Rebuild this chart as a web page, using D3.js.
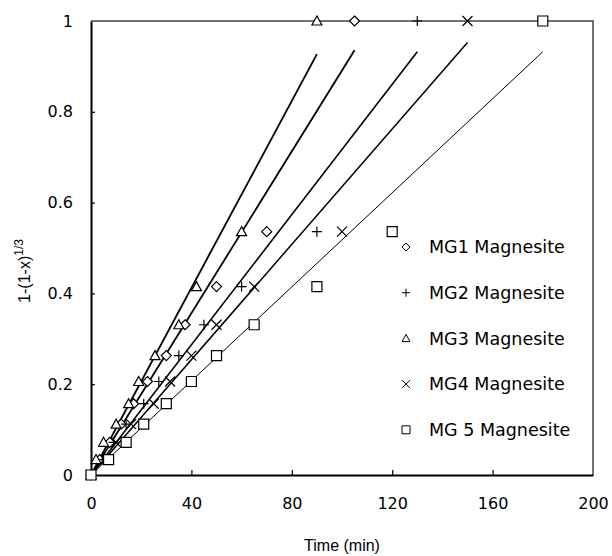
<!DOCTYPE html>
<html>
<head>
<meta charset="utf-8">
<script src="https://cdn.jsdelivr.net/npm/d3@7"></script>
<style>
  body { margin: 0; background: #fff; }
  svg { display: block; }
</style>
</head>
<body>
<div id="chart"></div>
<script>
// conversion levels 1-(1-x)^(1/3) for x = 0, 0.1 ... 0.9, 1
const yLevels = [0, 0.034, 0.072, 0.112, 0.157, 0.206, 0.263, 0.331, 0.415, 0.536, 1];

// time (min) at which each level is reached
const mg1Time = [0, 3.5, 7.5, 12, 17, 22.5, 30, 37.5, 50, 70, 105];
const mg2Time = [0, 4.5, 9, 14, 21, 27, 35, 45, 60, 90, 130];
const mg3Time = [0, 2, 5, 10, 15, 19, 25.5, 35, 42, 60, 90];
const mg4Time = [0, 5.5, 10, 16, 25, 31.5, 40, 50, 65, 100, 150];
const mg5Time = [0, 7, 14, 21, 30, 40, 50, 65, 90, 120, 180];

const seriesNames = ["MG1 Magnesite", "MG2 Magnesite", "MG3 Magnesite", "MG4 Magnesite", "MG 5 Magnesite"];
const seriesShapes = ["diamond", "plus", "triangle", "cross", "square"];

// linear fits through the origin: slope and last time of the fitted line
const fitSlope = [0.00891, 0.00717, 0.0103, 0.00635, 0.00518];
const fitEnd = [105, 130, 90, 150, 180];
const fitWidth = [1.8, 1.6, 1.8, 1.5, 1];

const xTicks = [0, 40, 80, 120, 160, 200];
const yTicks = [0, 0.2, 0.4, 0.6, 0.8, 1];

const width = 612;
const height = 556;
const margin = { top: 21, right: 19, bottom: 81, left: 91 };
const axisFont = "'Liberation Sans', Arial, Helvetica, sans-serif";

const x = d3.scaleLinear().domain([0, 200]).range([margin.left, width - margin.right]);
const y = d3.scaleLinear().domain([0, 1]).range([height - margin.bottom, margin.top]);

const svg = d3.select("#chart").append("svg")
    .attr("width", width)
    .attr("height", height);

// marker outlines, centred on 0,0
function shapePath(type, s) {
    const h = s / 2;
    if (type == "diamond") return `M0,${-h}L${h},0L0,${h}L${-h},0Z`;
    if (type == "square") return `M${-h},${-h}H${h}V${h}H${-h}Z`;
    if (type == "triangle") return `M0,${-h}L${h},${h * 0.8}H${-h}Z`;
    if (type == "plus") return `M${-h},0H${h}M0,${-h}V${h}`;
    if (type == "cross") return `M${-h},${-h}L${h},${h}M${h},${-h}L${-h},${h}`;
}

// frame: top and right in grey
svg.append("path")
    .attr("d", `M${x(0)},${y(1)}H${x(200)}V${y(0)}`)
    .attr("fill", "none")
    .attr("stroke", "#444")
    .attr("stroke-width", 1.5);

// axes
const xAxis = svg.append("g")
    .attr("transform", `translate(0,${y(0)})`)
    .call(d3.axisBottom(x).tickValues(xTicks).tickSizeInner(-5).tickSizeOuter(0).tickPadding(23));
const yAxis = svg.append("g")
    .attr("transform", `translate(${x(0)},0)`)
    .call(d3.axisLeft(y).tickValues(yTicks).tickFormat(d => String(d)).tickSizeInner(-4).tickSizeOuter(0).tickPadding(18));
for (const a of [xAxis, yAxis]) {
    a.attr("font-family", "'DejaVu Sans', Verdana, sans-serif").attr("font-size", 16);
    a.select(".domain").attr("stroke", "#000").attr("stroke-width", 2);
    a.selectAll(".tick line").attr("stroke", "#000").attr("stroke-width", 1.2);
    a.selectAll(".tick text").attr("fill", "#000");
}
xAxis.selectAll(".tick").filter(d => d == 0 || d == 200).select("line").remove();
yAxis.selectAll(".tick").filter(d => d == 0 || d == 1).select("line").remove();

// fitted lines
const allTimes = [mg1Time, mg2Time, mg3Time, mg4Time, mg5Time];
const line = d3.line().x(d => x(d[0])).y(d => y(d[1]));
svg.append("g")
    .selectAll("path")
    .data(fitSlope)
    .join("path")
    .attr("d", (k, i) => line([[0, 0], [fitEnd[i], k * fitEnd[i]]]))
    .attr("fill", "none")
    .attr("stroke", "#000")
    .attr("stroke-width", (k, i) => fitWidth[i]);

// data points
allTimes.forEach((times, i) => {
    svg.append("g")
        .selectAll("path")
        .data(times.map((t, j) => [t, yLevels[j]]))
        .join("path")
        .attr("transform", d => `translate(${x(d[0])},${y(d[1])})`)
        .attr("d", shapePath(seriesShapes[i], 10))
        .attr("fill", "#fff")
        .attr("stroke", "#000")
        .attr("stroke-width", 1.2);
});

// legend
const legend = svg.append("g").attr("transform", "translate(406,247)");
const rows = legend.selectAll("g")
    .data(seriesNames)
    .join("g")
    .attr("transform", (d, i) => `translate(0,${i * 45.7})`);
rows.append("path")
    .attr("d", (d, i) => shapePath(seriesShapes[i], 8))
    .attr("fill", "#fff")
    .attr("stroke", "#000")
    .attr("stroke-width", 1);
rows.append("text")
    .attr("x", 23)
    .attr("dy", "0.35em")
    .attr("font-family", "'DejaVu Sans', Verdana, sans-serif")
    .attr("font-size", 17.5)
    .text(d => d);

// axis titles
svg.append("text")
    .attr("x", (x(0) + x(200)) / 2)
    .attr("y", 551)
    .attr("text-anchor", "middle")
    .attr("font-family", axisFont)
    .attr("font-size", 16)
    .text("Time (min)");

const yt = svg.append("text")
    .attr("transform", "translate(30,271) rotate(-90)")
    .attr("text-anchor", "middle")
    .attr("font-family", axisFont)
    .attr("font-size", 16);
yt.append("tspan").text("1-(1-x)");
yt.append("tspan").attr("dy", -7).attr("font-size", 12).text("1/3");
</script>
</body>
</html>
